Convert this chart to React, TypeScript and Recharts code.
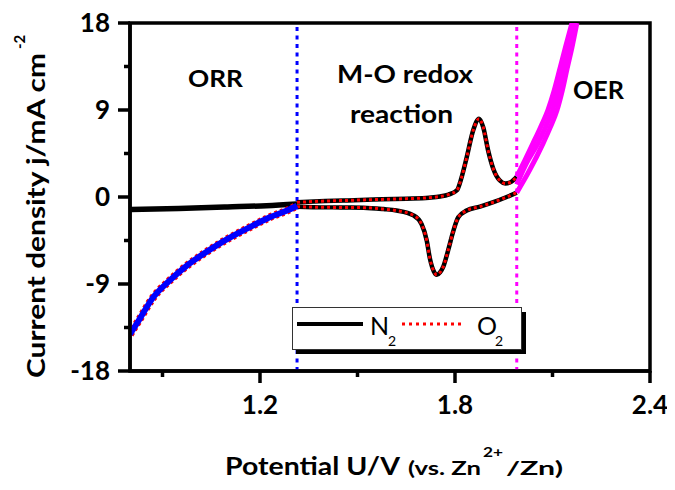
import React from 'react';
import { LineChart, Line, XAxis, YAxis, ReferenceLine, ReferenceArea } from 'recharts';

// ---- data ----
const baseN2Potential = [0.8, 0.95, 1.1, 1.22, 1.314];
const baseN2Current = [-1.3, -1.18, -1.03, -0.9, -0.72];

const anodicPotential = [1.314, 1.4, 1.47, 1.55, 1.65, 1.72, 1.754, 1.78, 1.806, 1.82, 1.836, 1.856, 1.874, 1.887, 1.902, 1.918, 1.938, 1.955, 1.969, 1.99];
const anodicCurrent = [-0.55, -0.42, -0.35, -0.27, -0.17, -0.07, 0.05, 0.25, 0.7, 2.0, 4.1, 6.9, 8.1, 7.2, 4.8, 2.9, 1.7, 1.4, 1.5, 2.1];

const cathodicPotential = [1.314, 1.364, 1.45, 1.518, 1.58, 1.62, 1.672, 1.697, 1.713, 1.723, 1.735, 1.744, 1.754, 1.764, 1.779, 1.795, 1.81, 1.836, 1.877, 1.918, 1.959, 1.99];
const cathodicCurrent = [-1.0, -1.05, -1.08, -1.1, -1.25, -1.4, -1.9, -2.8, -4.5, -6.4, -7.7, -8.05, -7.8, -7.2, -5.5, -3.5, -2.1, -1.4, -1.0, -0.54, 0.0, 0.45];

const orrPotential = [0.8, 0.83, 0.871, 0.92, 0.975, 1.03, 1.077, 1.13, 1.178, 1.23, 1.283, 1.314];
const orrCurrent = [-14.2, -12.6, -10.4, -8.7, -7.1, -5.8, -4.8, -3.8, -2.96, -2.1, -1.4, -0.9];

const oerFwdPotential = [1.99, 2.015, 2.04, 2.063, 2.086, 2.105, 2.123, 2.14, 2.16];
const oerFwdCurrent = [2.1, 3.8, 5.55, 7.2, 9.0, 11.0, 13.3, 15.5, 18];
const oerMidPotential = [1.99, 2.02, 2.055, 2.078, 2.1, 2.118, 2.134, 2.15, 2.168];
const oerMidCurrent = [1.3, 3.5, 5.55, 7.2, 9.0, 11.0, 13.3, 15.5, 18];
const oerRevPotential = [1.99, 2.03, 2.071, 2.093, 2.114, 2.13, 2.145, 2.16, 2.175];
const oerRevCurrent = [0.45, 2.8, 5.55, 7.2, 9.0, 11.0, 13.3, 15.5, 18];

const orrBoundary = 1.314;
const oerBoundary = 1.99;

const xTicks = [0.9, 1.2, 1.5, 1.8, 2.1, 2.4];
const xLabelTicks = [1.2, 1.8, 2.4];
const yTicks = [-18, -13.5, -9, -4.5, 0, 4.5, 9, 13.5, 18];
const yLabelTicks = [-18, -9, 0, 9, 18];

const toPoints = (xs: number[], ys: number[]) => xs.map((x, i) => ({ x, y: ys[i] }));

const FONT = 'Lato, "Open Sans", sans-serif';
const AX = 3.5;

const XTick = (props: any) => {
  const { x, y, payload } = props;
  const v = payload.value;
  const major = xLabelTicks.some((t) => Math.abs(t - v) < 1e-6);
  const axisY = y - 24;
  return (
    <g>
      <line x1={x} x2={x} y1={axisY} y2={axisY + (major ? 12 : 6)} stroke="#000" strokeWidth={AX} />
      {major && (
        <text x={x} y={axisY + 43} textAnchor="middle" fontFamily={FONT} fontWeight={700} fontSize={26} fill="#000">
          {v.toFixed(1)}
        </text>
      )}
    </g>
  );
};

const YTick = (props: any) => {
  const { x, y, payload } = props;
  const v = payload.value;
  const major = yLabelTicks.some((t) => Math.abs(t - v) < 1e-6);
  const axisX = x + 20;
  return (
    <g>
      <line x1={axisX} x2={axisX - (major ? 12 : 6)} y1={y} y2={y} stroke="#000" strokeWidth={AX} />
      {major && (
        <text x={x} y={y + 9} textAnchor="end" fontFamily={FONT} fontWeight={700} fontSize={26} fill="#000">
          {String(v)}
        </text>
      )}
    </g>
  );
};

type S = { key: string; data: { x: number; y: number }[]; stroke: string; width: number; dash?: string };

const series: S[] = [
  { key: 'n2-base', data: toPoints(baseN2Potential, baseN2Current), stroke: '#000', width: 5.5 },
  { key: 'n2-an', data: toPoints(anodicPotential, anodicCurrent), stroke: '#000', width: 4.5 },
  { key: 'n2-cat', data: toPoints(cathodicPotential, cathodicCurrent), stroke: '#000', width: 4.5 },
  { key: 'o2-orr', data: toPoints(orrPotential, orrCurrent), stroke: '#ff0000', width: 8, dash: '3 3' },
  { key: 'o2-an', data: toPoints(anodicPotential, anodicCurrent), stroke: '#ff0000', width: 3, dash: '3 3' },
  { key: 'o2-cat', data: toPoints(cathodicPotential, cathodicCurrent), stroke: '#ff0000', width: 3, dash: '3 3' },
  { key: 'orr', data: toPoints(orrPotential, orrCurrent), stroke: '#0000ff', width: 6 },
  { key: 'oer-f', data: toPoints(oerFwdPotential, oerFwdCurrent), stroke: '#ff00ff', width: 5 },
  { key: 'oer-m', data: toPoints(oerMidPotential, oerMidCurrent), stroke: '#ff00ff', width: 5 },
  { key: 'oer-r', data: toPoints(oerRevPotential, oerRevCurrent), stroke: '#ff00ff', width: 5 },
];

const W = 660;
const H = 474;

export default function App() {
  return (
    <div style={{ position: 'relative', width: W, height: H }}>
      <LineChart width={W} height={H} margin={{ top: 15, right: 18, left: 62, bottom: 71 }}>
        <XAxis
          dataKey="x"
          type="number"
          domain={[0.8, 2.4]}
          allowDataOverflow
          ticks={xTicks}
          interval={0}
          height={40}
          tickSize={12}
          tickMargin={12}
          tickLine={false}
          axisLine={{ stroke: '#000', strokeWidth: AX }}
          tick={<XTick />}
        />
        <YAxis
          dataKey="y"
          type="number"
          domain={[-18, 18]}
          allowDataOverflow
          ticks={yTicks}
          interval={0}
          width={60}
          tickSize={12}
          tickMargin={8}
          tickLine={false}
          axisLine={{ stroke: '#000', strokeWidth: AX }}
          tick={<YTick />}
        />
        <ReferenceArea x1={0.8} x2={2.4} y1={-18} y2={18} fill="none" fillOpacity={0} stroke="#000" strokeWidth={AX} />
        <ReferenceLine x={orrBoundary} stroke="#0000ff" strokeWidth={3} strokeDasharray="4 4.5" />
        <ReferenceLine x={oerBoundary} stroke="#ff00ff" strokeWidth={3} strokeDasharray="4 4.5" />
        {series.map((s) => (
          <Line
            key={s.key}
            data={s.data}
            dataKey="y"
            type="monotone"
            stroke={s.stroke}
            strokeWidth={s.width}
            strokeDasharray={s.dash}
            dot={false}
            activeDot={false}
            isAnimationActive={false}
            legendType="none"
          />
        ))}
      </LineChart>
      <svg width={W} height={H} style={{ position: 'absolute', left: 0, top: 0, pointerEvents: 'none' }}>
        <g fontFamily={FONT} fontWeight={700} fill="#000">
          <text x={180} y={79} fontSize={23} textLength={55} lengthAdjust="spacingAndGlyphs">ORR</text>
          <text x={329} y={75} fontSize={24} textLength={136} lengthAdjust="spacingAndGlyphs">M-O redox</text>
          <text x={342} y={115} fontSize={24} textLength={103} lengthAdjust="spacingAndGlyphs">reaction</text>
          <text x={565} y={91} fontSize={24} textLength={51} lengthAdjust="spacingAndGlyphs">OER</text>
          <g transform="translate(37,370) rotate(-90)">
            <text x={0} y={0} fontSize={25} textLength={325} lengthAdjust="spacingAndGlyphs">Current density j/mA cm</text>
            <text x={329} y={-20} fontSize={15}>-2</text>
          </g>
          <text x={217} y={467} fontSize={24} textLength={175} lengthAdjust="spacingAndGlyphs">Potential U/V</text>
          <text x={400} y={467} fontSize={19} textLength={73} lengthAdjust="spacingAndGlyphs">(vs. Zn</text>
          <text x={475} y={449} fontSize={14} textLength={20} lengthAdjust="spacingAndGlyphs">2+</text>
          <text x={498} y={467} fontSize={19} textLength={57} lengthAdjust="spacingAndGlyphs">/Zn)</text>
        </g>
        <g>
          <rect x={288} y={304} width={230} height={42} fill="#000" />
          <rect x={284.5} y={299.5} width={229} height={42} fill="#fff" stroke="#333" strokeWidth={1} />
          <line x1={289} x2={355} y1={316} y2={316} stroke="#000" strokeWidth={4} />
          <text x={362} y={327} fontFamily={FONT} fontSize={25} fill="#000">N</text>
          <text x={380} y={338} fontFamily={FONT} fontSize={14} fill="#000">2</text>
          <line x1={394} x2={457} y1={316} y2={316} stroke="#ff0000" strokeWidth={3} strokeDasharray="3 4" />
          <text x={469} y={327} fontFamily={FONT} fontSize={25} fill="#000">O</text>
          <text x={487} y={338} fontFamily={FONT} fontSize={14} fill="#000">2</text>
        </g>
      </svg>
    </div>
  );
}
